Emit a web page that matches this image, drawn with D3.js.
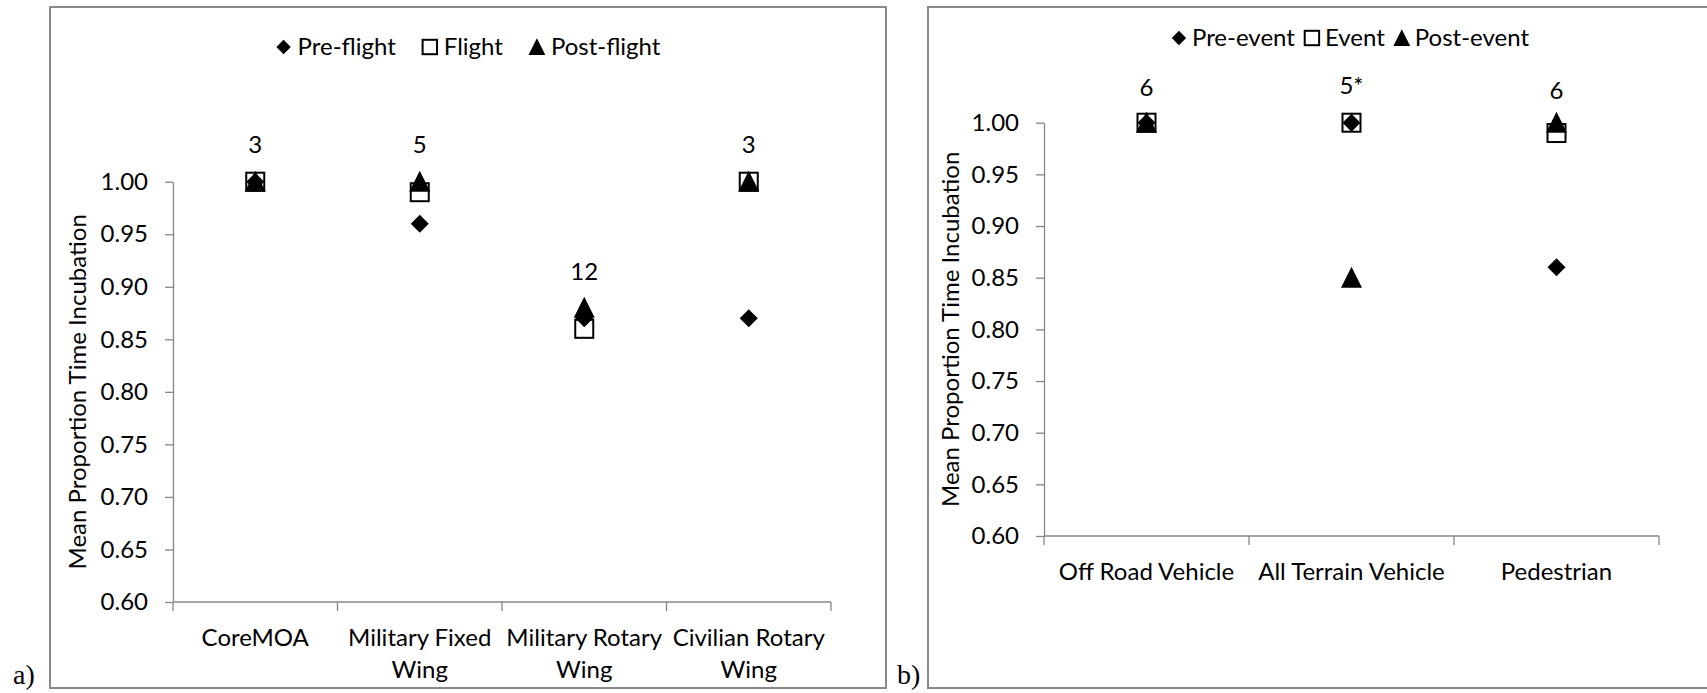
<html>
<head>
<script src="https://d3js.org/d3.v7.min.js"></script>
<style>
  body { margin: 0; background: #fff; }
  text { font-family: Lato, "Liberation Sans", sans-serif; fill: #000; }
</style>
</head>
<body>
<svg id="chart" width="1707" height="693"></svg>
<script>
// panel a) data
const categoriesA = ["CoreMOA", "Military Fixed Wing", "Military Rotary Wing", "Civilian Rotary Wing"];
const preFlight = [1.00, 0.96, 0.87, 0.87];
const flight = [1.00, 0.99, 0.86, 1.00];
const postFlight = [1.00, 1.00, 0.88, 1.00];
const countsA = ["3", "5", "12", "3"];
const countPosA = [1.035, 1.035, 0.914, 1.035];
const legendA = ["Pre-flight", "Flight", "Post-flight"];

// panel b) data
const categoriesB = ["Off Road Vehicle", "All Terrain Vehicle", "Pedestrian"];
const preEvent = [1.00, 1.00, 0.86];
const eventVals = [1.00, 1.00, 0.99];
const postEvent = [1.00, 0.85, 1.00];
const countsB = ["6", "5*", "6"];
const countPosB = [1.034, 1.036, 1.031];
const legendB = ["Pre-event", "Event", "Post-event"];

const yTicks = [0.60, 0.65, 0.70, 0.75, 0.80, 0.85, 0.90, 0.95, 1.00];
const yTitle = "Mean Proportion Time Incubation";

const svg = d3.select("#chart");
const fontSize = 24;
const gray = "#878787";
const shapes = ["diamond", "square", "triangle"];

function marker(sel, shape, s) {
    // s = scale, 1 for plot markers, smaller for legend
    if (shape == "diamond") {
        sel.append("path").attr("d", "M0," + (-9*s) + "L" + (9*s) + ",0L0," + (9*s) + "L" + (-9*s) + ",0Z")
            .attr("fill", "#000");
    } else if (shape == "square") {
        sel.append("rect").attr("x", -9*s).attr("y", -9*s).attr("width", 18*s).attr("height", 18*s)
            .attr("fill", "none").attr("stroke", "#000").attr("stroke-width", 2);
    } else {
        sel.append("path").attr("d", "M0," + (-11*s) + "L" + (10.5*s) + "," + (10*s) + "L" + (-10.5*s) + "," + (10*s) + "Z")
            .attr("fill", "#000");
    }
}

function wrap(textSel, width) {
    textSel.each(function() {
        const t = d3.select(this);
        const words = t.text().split(" ");
        const x = t.attr("x");
        t.text(null);
        let line = [];
        let lineNo = 0;
        let tspan = t.append("tspan").attr("x", x).attr("dy", 0);
        words.forEach(function(w) {
            line.push(w);
            tspan.text(line.join(" "));
            if (tspan.node().getComputedTextLength() > width && line.length > 1) {
                line.pop();
                tspan.text(line.join(" "));
                line = [w];
                lineNo++;
                tspan = t.append("tspan").attr("x", x).attr("dy", 32).text(w);
            }
        });
    });
}

function drawPanel(p) {
    const g = svg.append("g");

    // outer frame
    g.append("rect")
        .attr("x", p.box[0]).attr("y", 7)
        .attr("width", p.box[1] - p.box[0]).attr("height", 681)
        .attr("fill", "none").attr("stroke", "#8a8a8a").attr("stroke-width", 2);

    const xs = d3.scaleBand().domain(p.categories).range([p.left, p.right]);
    const ys = d3.scaleLinear().domain([0.6, 1.0]).range([p.bottom, p.top]);

    // y axis
    const yax = g.append("g")
        .attr("transform", "translate(" + p.left + ",0)")
        .call(d3.axisLeft(ys).tickValues(yTicks).tickFormat(d3.format(".2f"))
            .tickSizeInner(8).tickSizeOuter(0).tickPadding(17));
    yax.select(".domain").attr("stroke", gray).attr("stroke-width", 1.3);
    yax.selectAll(".tick line").attr("stroke", gray).attr("stroke-width", 1.3);
    yax.selectAll(".tick text").style("font-size", fontSize + "px").style("font-family", null);

    // x axis with ticks between categories
    const xax = g.append("g");
    xax.append("line")
        .attr("x1", p.left).attr("x2", p.right)
        .attr("y1", p.bottom).attr("y2", p.bottom)
        .attr("stroke", gray).attr("stroke-width", 1.3);
    const bounds = p.categories.map(function(c) { return xs(c); }).concat([p.right]);
    xax.selectAll(".xtick").data(bounds).enter().append("line")
        .attr("x1", function(d) { return d; }).attr("x2", function(d) { return d; })
        .attr("y1", p.bottom).attr("y2", p.bottom + 9)
        .attr("stroke", gray).attr("stroke-width", 1.3);
    xax.selectAll(".xlabel").data(p.categories).enter().append("text")
        .attr("x", function(d) { return xs(d) + xs.bandwidth()/2; })
        .attr("y", p.bottom + 44)
        .attr("text-anchor", "middle")
        .style("font-size", fontSize + "px")
        .text(function(d) { return d; })
        .call(wrap, xs.bandwidth() + 4);

    // y title
    g.append("text")
        .attr("transform", "translate(" + p.titleX + "," + (p.top + p.bottom)/2 + ") rotate(-90)")
        .attr("text-anchor", "middle")
        .style("font-size", fontSize + "px")
        .text(yTitle);

    // markers, series drawn in order
    p.series.forEach(function(vals, si) {
        g.append("g").selectAll("g").data(vals).enter().append("g")
            .attr("transform", function(d, i) {
                return "translate(" + (xs(p.categories[i]) + xs.bandwidth()/2) + "," + ys(d) + ")";
            })
            .each(function() { marker(d3.select(this), shapes[si], 1); });
    });

    // n labels
    g.selectAll(".count").data(p.counts).enter().append("text")
        .attr("x", function(d, i) { return xs(p.categories[i]) + xs.bandwidth()/2; })
        .attr("y", function(d, i) { return ys(p.countPos[i]); })
        .attr("dy", "0.35em")
        .attr("text-anchor", "middle")
        .style("font-size", fontSize + "px")
        .text(function(d) { return d; });

    // legend
    const lg = g.append("g");
    let xpos = 0;
    p.legend.forEach(function(lab, i) {
        const item = lg.append("g").attr("transform", "translate(" + xpos + ",0)");
        const m = item.append("g").attr("transform", "translate(8,0)");
        marker(m, shapes[i], 0.8);
        const t = item.append("text")
            .attr("x", 8 + 8 + p.legendPad)
            .attr("dy", "0.35em")
            .style("font-size", fontSize + "px")
            .text(lab);
        xpos += 8 + 8 + p.legendPad + t.node().getComputedTextLength() + p.legendGap;
    });
    const lw = xpos - p.legendGap;
    lg.attr("transform", "translate(" + ((p.box[0] + p.box[1])/2 - lw/2) + "," + p.legendY + ")");

    // panel letter
    g.append("text")
        .attr("x", p.letterX).attr("y", 684)
        .style("font-family", "'Liberation Serif', serif")
        .style("font-size", "28px")
        .text(p.letter);
}

drawPanel({
    box: [50, 886], left: 173, right: 831, top: 181.7, bottom: 602,
    categories: categoriesA, series: [preFlight, flight, postFlight],
    counts: countsA, countPos: countPosA, legend: legendA,
    legendY: 47, legendPad: 6, legendGap: 26,
    titleX: 86, letter: "a)", letterX: 13
});

drawPanel({
    box: [928, 1772], left: 1044, right: 1659, top: 122.7, bottom: 536,
    categories: categoriesB, series: [preEvent, eventVals, postEvent],
    counts: countsB, countPos: countPosB, legend: legendB,
    legendY: 38, legendPad: 5, legendGap: 9,
    titleX: 959, letter: "b)", letterX: 897
});
</script>
</body>
</html>
